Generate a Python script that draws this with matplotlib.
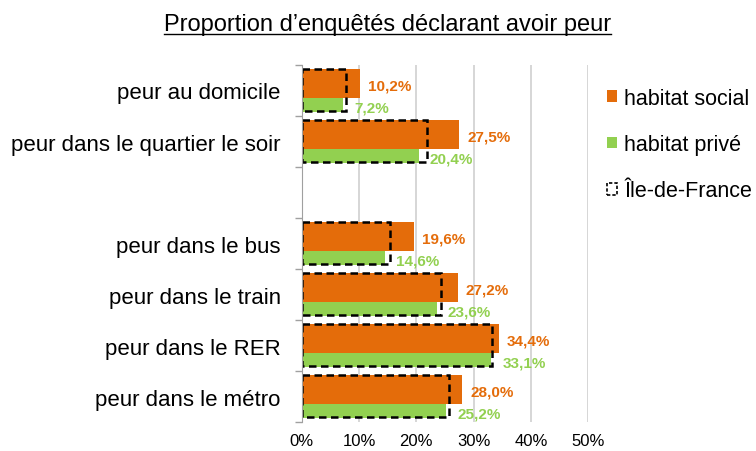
import matplotlib.pyplot as plt
import numpy as np
from matplotlib.patches import Patch
from matplotlib.lines import Line2D

plt.rcParams['font.family'] = ['Liberation Sans', 'DejaVu Sans']

# data (percent); empty label = spacer row between the two groups
categories = ["peur au domicile", "peur dans le quartier le soir", "",
              "peur dans le bus", "peur dans le train", "peur dans le RER",
              "peur dans le métro"]
social = [10.2, 27.5, np.nan, 19.6, 27.2, 34.4, 28.0]
prive = [7.2, 20.4, np.nan, 14.6, 23.6, 33.1, 25.2]
idf = [7.8, 21.8, np.nan, 15.4, 24.4, 33.2, 25.8]
xticks = [0, 10, 20, 30, 40, 50]

orange = '#E46C0A'
green = '#92D050'

fig = plt.figure(figsize=(7.56, 4.52), dpi=100)
ax = fig.add_axes([0.399, 0.064, 0.379, 0.79])

y = np.arange(len(categories))
ok = ~np.isnan(np.array(social))
yy = y[ok]
soc = np.array(social)[ok]
prv = np.array(prive)[ok]
ile = np.array(idf)[ok]

# orange bar sits in the upper part of each row, green bar underneath
ax.barh(yy - 0.135, soc, height=0.57, color=orange, zorder=2)
ax.barh(yy + 0.285, prv, height=0.27, color=green, zorder=2)
ax.barh(yy - 0.01, ile, height=0.84, fill=False, edgecolor='black',
        linestyle=(0, (3, 1.8)), linewidth=1.8, zorder=3)

for yi, s, p, i in zip(yy, soc, prv, ile):
    ax.annotate(f"{s:.1f}%".replace('.', ','), (s, yi - 0.135),
                xytext=(6, -1.5), textcoords='offset points', va='center',
                ha='left', color=orange, fontsize=11, fontweight='bold')
    ax.annotate(f"{p:.1f}%".replace('.', ','), (p, yi + 0.285),
                xytext=(8, -1.5), textcoords='offset points', va='center',
                ha='left', color=green, fontsize=11, fontweight='bold')

ax.set_xlim(0, 50)
ax.set_ylim(len(categories) - 0.5, -0.5)
ax.set_xticks(xticks)
ax.set_xticklabels([f"{t}%" for t in xticks], fontsize=12)
ax.set_yticks(y)
ax.set_yticklabels(categories, fontsize=16)
ax.set_yticks(np.arange(len(categories) + 1) - 0.5, minor=True)
ax.tick_params(axis='y', which='major', length=0, pad=15)
ax.tick_params(axis='y', which='minor', length=5, color='#A0A0A0', width=1)
ax.tick_params(axis='x', length=0, pad=8)
ax.grid(axis='x', color='#D0D0D0', linewidth=1.2, zorder=0)
ax.set_axisbelow(True)
for side in ['top', 'right', 'bottom']:
    ax.spines[side].set_visible(False)
ax.spines['left'].set_color('#A0A0A0')
ax.spines['left'].set_zorder(4)

handles = [Patch(facecolor=orange, edgecolor='none', label='habitat social'),
           Patch(facecolor=green, edgecolor='none', label='habitat privé'),
           Patch(facecolor='none', edgecolor='black', linestyle=(0, (2, 1.2)),
                 linewidth=1.2, label='Île-de-France')]
fig.legend(handles=handles, loc='upper left', bbox_to_anchor=(0.803, 0.804),
           frameon=False, fontsize=15.5, handlelength=0.45, handleheight=0.45,
           handletextpad=0.35, labelspacing=1.18, borderaxespad=0, borderpad=0)

title = fig.text(0.512, 0.945, "Proportion d’enquêtés déclarant avoir peur",
                 ha='center', va='center', fontsize=17)
# underline the title
fig.canvas.draw()
bb = title.get_window_extent()
fig.add_artist(Line2D([bb.x0 / 756, bb.x1 / 756],
                      [(bb.y0 + 1) / 452, (bb.y0 + 1) / 452],
                      color='black', linewidth=1))

plt.savefig('out.png', dpi=100)
